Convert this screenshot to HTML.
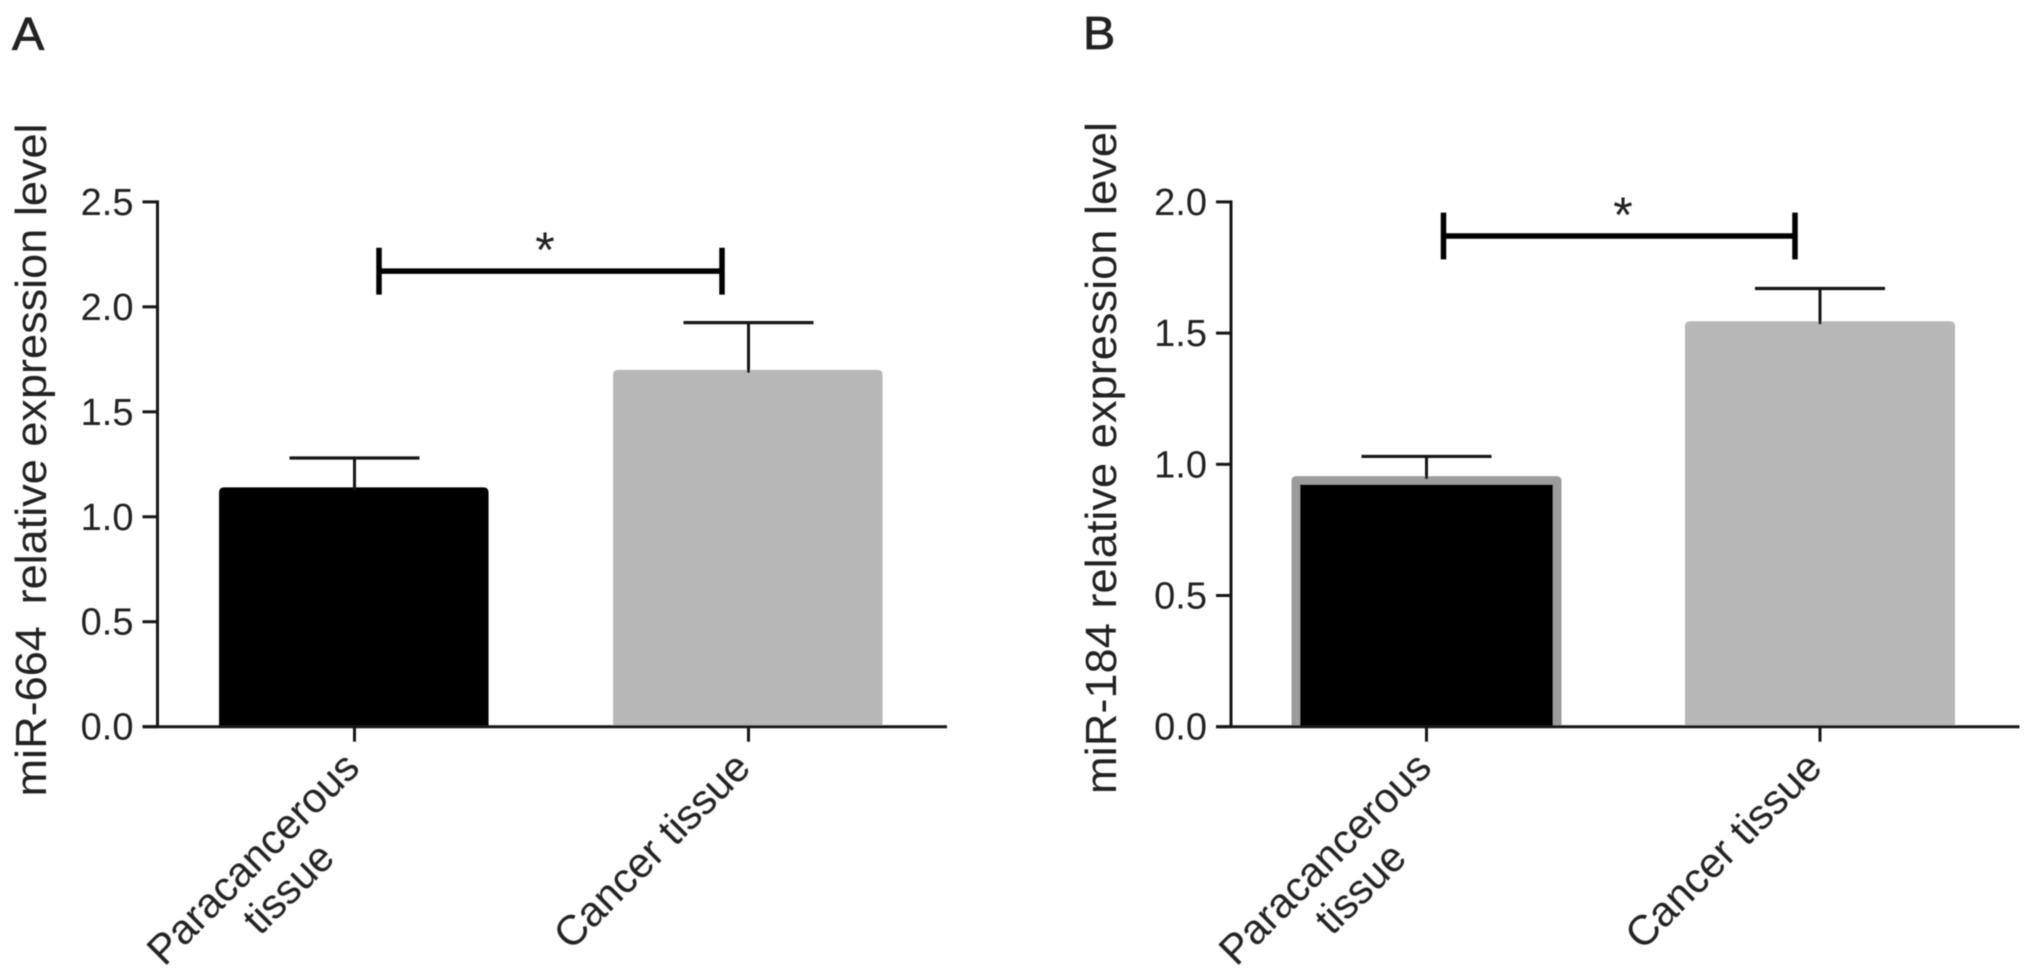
<!DOCTYPE html>
<html lang="en">
<head>
<meta charset="utf-8">
<title>miR-664 and miR-184 relative expression</title>
<style>
  html, body { margin: 0; padding: 0; background: #fff; }
  svg { display: block; font-family: "Liberation Sans", Arial, sans-serif; }
  text { fill: #222; }
</style>
</head>
<body>
<svg id="figure" width="2031" height="979" viewBox="0 0 2031 979" xmlns="http://www.w3.org/2000/svg">
  <defs>
    <filter id="soft" x="-5%" y="-5%" width="110%" height="110%"><feGaussianBlur stdDeviation="0.6"/></filter>
  </defs>
  <rect width="2031" height="979" fill="#fff"/>
  <g id="root" filter="url(#soft)">
    <text transform="translate(12 50) scale(1.05 1)" font-size="46" stroke="#222" stroke-width="0.8">A</text>
    <text transform="translate(1083 49) scale(1.05 1)" font-size="46" stroke="#222" stroke-width="0.8">B</text>
    <text transform="translate(46 460) rotate(-90)" text-anchor="middle" font-size="44" textLength="673" lengthAdjust="spacingAndGlyphs">miR-664 <tspan dx="9">relative expression level</tspan></text>
    <text transform="translate(1116 458) rotate(-90)" text-anchor="middle" font-size="44" word-spacing="2" textLength="672" lengthAdjust="spacingAndGlyphs">miR-184 relative expression level</text>
    <g id="panel-a"></g>
    <g id="panel-b"></g>
  </g>
</svg>
<script>
// Chart data
const categoryLines = [["Paracancerous", "tissue"], ["Cancer tissue"]];
const tickLabelsA = ["0.0", "0.5", "1.0", "1.5", "2.0", "2.5"];
const tickLabelsB = ["0.0", "0.5", "1.0", "1.5", "2.0"];
const meansA = [1.14, 1.70];
const upperErrorsA = [1.28, 1.925];
const meansB = [0.955, 1.545];
const upperErrorsB = [1.03, 1.67];
const significanceLevelA = [2.17];
const significanceLevelB = [1.87];
const significanceMarks = ["*"];

const SVGNS = "http://www.w3.org/2000/svg";

function make(parent, tag, attrs, text) {
  const el = document.createElementNS(SVGNS, tag);
  for (const k in attrs) el.setAttribute(k, attrs[k]);
  if (text !== undefined) el.textContent = text;
  parent.appendChild(el);
  return el;
}

function roundedTopBar(left, right, top, bottom, r) {
  return "M" + left + " " + bottom + "V" + (top + r) + "Q" + left + " " + top + " " + (left + r) + " " + top +
    "H" + (right - r) + "Q" + right + " " + top + " " + right + " " + (top + r) + "V" + bottom + "Z";
}

function drawPanel(cfg) {
  const g = document.getElementById(cfg.id);
  const yMax = parseFloat(cfg.ticks[cfg.ticks.length - 1]);
  const yScale = function (v) { return cfg.y0 - (v / yMax) * (cfg.y0 - cfg.yTop); };
  const xScale = function (i) { return cfg.center0 + cfg.step * i; };
  const ink = "#141414";

  // bars
  cfg.means.forEach(function (v, i) {
    const cx = xScale(i) + cfg.barShift;
    const top = yScale(v);
    const bar = make(g, "path", {
      d: roundedTopBar(cx - cfg.barWidth / 2, cx + cfg.barWidth / 2, top, cfg.y0, 5),
      fill: i === 0 ? cfg.firstBarEdge : "#b7b7b7"
    });
    
    
    if (i === 0 && cfg.firstBarInset > 0) {
      const inner = make(g, "rect", {
        x: cx - cfg.barWidth / 2 + cfg.firstBarInset, y: top + cfg.firstBarInset,
        width: cfg.barWidth - 2 * cfg.firstBarInset, height: cfg.y0 - top - cfg.firstBarInset,
        fill: "#000"
      });
      
      
    }
  });

  // error bars
  cfg.errors.forEach(function (v, i) {
    const cx = xScale(i);
    const yE = yScale(v);
    const yB = yScale(cfg.means[i]);
    const stem = make(g, "line", { x1: cx, x2: cx, y1: yE, y2: yB + 3, stroke: ink, "stroke-width": 3 });
    
    
    const cap = make(g, "line", { x1: cx - 65, x2: cx + 65, y1: yE, y2: yE, stroke: ink, "stroke-width": 3.2 });
    
    
  });

  // y axis
  const yAxis = make(g, "line", { x1: cfg.axisX, x2: cfg.axisX, y1: cfg.yTop - 1.5, y2: cfg.y0, stroke: ink, "stroke-width": 3 });
  
  
  cfg.ticks.forEach(function (label) {
    const v = parseFloat(label);
    const y = yScale(v);
    const tick = make(g, "line", { x1: cfg.axisX - 15, x2: cfg.axisX, y1: y, y2: y, stroke: ink, "stroke-width": 3 });
    
    
    const t = make(g, "text", { x: cfg.axisX - 24, y: y + 13, "text-anchor": "end", "font-size": 38 }, label);
    
    
  });

  // x axis
  const xAxis = make(g, "line", { x1: cfg.axisX - 15, x2: cfg.xEnd, y1: cfg.y0, y2: cfg.y0, stroke: ink, "stroke-width": 3 });
  
  
  categoryLines.forEach(function (lines, i) {
    const cx = xScale(i);
    const tick = make(g, "line", { x1: cx, x2: cx, y1: cfg.y0, y2: cfg.y0 + 15, stroke: ink, "stroke-width": 3 });
    
    
    const labelDx = lines[1] ? 7 : 4;
    const labelSize = lines[1] ? 41.5 : 42;
    const label = make(g, "g", { transform: "translate(" + (cx + labelDx) + " " + (cfg.y0 + 43) + ") rotate(-45)" });
    
    
    const first = make(label, "text", { x: 0, y: 0, "text-anchor": "end", "font-size": labelSize }, lines[0]);
    
    
    if (lines[1]) {
      const w = first.getComputedTextLength();
      const second = make(label, "text", { x: -w / 2 + 4, y: 46, "text-anchor": "middle", "font-size": labelSize }, lines[1]);
      
      
    }
  });

  // significance bracket
  const by = yScale(cfg.bracketLevel[0]);
  const bx1 = cfg.bracketX[0];
  const bx2 = cfg.bracketX[1];
  const barLine = make(g, "line", { x1: bx1, x2: bx2, y1: by, y2: by, stroke: "#000", "stroke-width": 5.5 });
  
  
  [bx1, bx2].forEach(function (bx) {
    const end = make(g, "line", { x1: bx, x2: bx, y1: by - 23.4, y2: by + 23.4, stroke: "#000", "stroke-width": 5.5 });
    
    
  });
  const star = make(g, "text", { x: cfg.starX, y: by - 4, "text-anchor": "middle", "font-size": 50 }, significanceMarks[0]);
  
  
}

drawPanel({
  id: "panel-a", ticks: tickLabelsA, means: meansA, errors: upperErrorsA,
  bracketLevel: significanceLevelA, bracketX: [379, 722], starX: 545,
  y0: 726.7, yTop: 201.9, axisX: 157.5, xEnd: 947,
  center0: 354.5, step: 394, barWidth: 269.5, barShift: -0.7,
  firstBarEdge: "#000", firstBarInset: 0
});
drawPanel({
  id: "panel-b", ticks: tickLabelsB, means: meansB, errors: upperErrorsB,
  bracketLevel: significanceLevelB, bracketX: [1443.5, 1795], starX: 1623,
  y0: 726.7, yTop: 201.9, axisX: 1231, xEnd: 2019.5,
  center0: 1426.5, step: 393.5, barWidth: 270, barShift: 0,
  firstBarEdge: "#9c9c9c", firstBarInset: 8.5
});
</script>
</body>
</html>
